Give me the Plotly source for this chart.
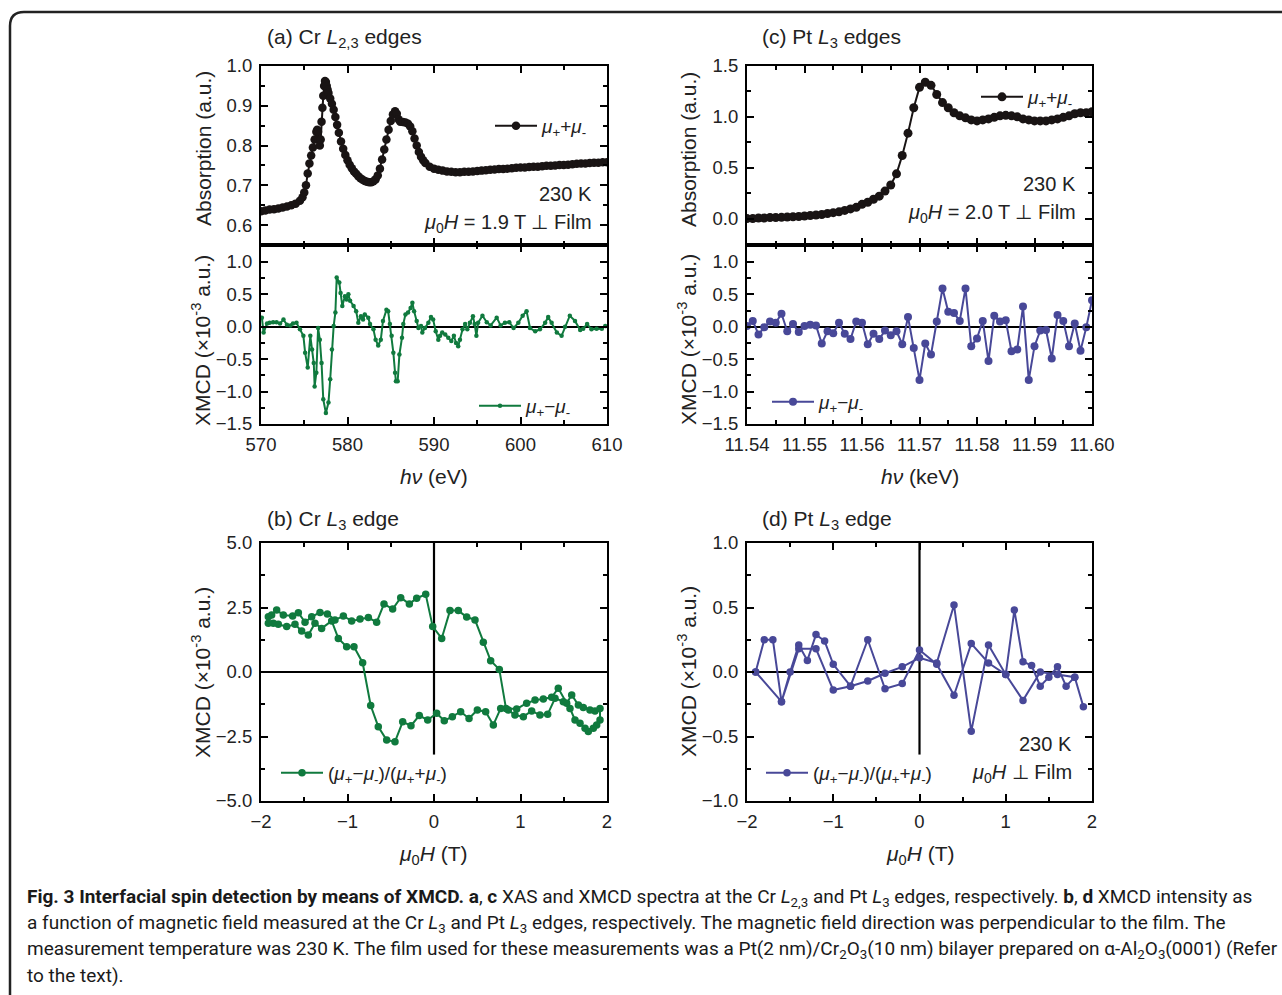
import plotly.graph_objects as go

W, H = 1282, 995
def px(x): return x / W
def py(y): return 1 - y / H

# ---------------- data ----------------
# (a) Cr L2,3 XAS  (mu+ + mu-)
cr_xas_e = [570.0, 570.5, 571.0, 571.5, 572.0, 572.5, 573.0, 573.5, 574.0, 574.5,
            574.8, 575.0, 575.2, 575.4, 575.6, 575.8, 576.0, 576.2, 576.4, 576.5,
            576.6, 576.7, 576.8, 576.9, 577.0, 577.1, 577.2, 577.3, 577.4, 577.5,
            577.6, 577.7, 577.8, 578.0, 578.2, 578.4, 578.6, 578.8, 579.0, 579.25,
            579.5, 579.75, 580.0, 580.25, 580.5, 580.75, 581.0, 581.25, 581.5, 581.75,
            582.0, 582.25, 582.5, 582.75, 583.0, 583.25, 583.5, 583.75, 584.0, 584.25,
            584.5, 584.75, 585.0, 585.25, 585.5, 585.7, 585.9, 586.1, 586.4, 586.7,
            587.0, 587.25, 587.5, 587.75, 588.0, 588.25, 588.5, 588.75, 589.0, 589.5,
            590.0, 590.5, 591.0, 591.5, 592.0, 592.5, 593.0, 593.5, 594.0, 594.5,
            595.0, 595.5, 596.0, 596.5, 597.0, 597.5, 598.0, 598.5, 599.0, 599.5,
            600.0, 600.5, 601.0, 601.5, 602.0, 602.5, 603.0, 603.5, 604.0, 604.5,
            605.0, 605.5, 606.0, 606.5, 607.0, 607.5, 608.0, 608.5, 609.0, 609.5, 610.0]
cr_xas_i = [0.635, 0.637, 0.639, 0.640, 0.642, 0.644, 0.647, 0.650, 0.654, 0.661,
            0.670, 0.682, 0.700, 0.730, 0.755, 0.775, 0.795, 0.815, 0.835, 0.840,
            0.835, 0.815, 0.800, 0.815, 0.860, 0.895, 0.925, 0.950, 0.962, 0.960,
            0.950, 0.940, 0.932, 0.918, 0.905, 0.890, 0.872, 0.852, 0.832, 0.810,
            0.792, 0.776, 0.763, 0.752, 0.743, 0.735, 0.729, 0.723, 0.718, 0.714,
            0.711, 0.709, 0.708, 0.708, 0.710, 0.715, 0.725, 0.742, 0.765, 0.790,
            0.815, 0.840, 0.862, 0.878, 0.886, 0.880, 0.866, 0.860, 0.859, 0.858,
            0.855, 0.848, 0.836, 0.818, 0.800, 0.784, 0.772, 0.763, 0.756, 0.747,
            0.742, 0.739, 0.737, 0.735, 0.734, 0.733, 0.733, 0.734, 0.734, 0.735,
            0.736, 0.737, 0.738, 0.739, 0.740, 0.741, 0.741, 0.742, 0.743, 0.744,
            0.745, 0.745, 0.746, 0.747, 0.747, 0.748, 0.749, 0.749, 0.750, 0.751,
            0.751, 0.752, 0.753, 0.754, 0.755, 0.755, 0.756, 0.757, 0.757, 0.758, 0.758]

# (a) Cr L2,3 XMCD (mu+ - mu-), x10^-3
cr_xmcd_e = [570.1, 570.3, 570.7, 571.0, 571.4, 571.8, 572.2, 572.6, 573.0, 573.4,
             573.7, 574.1, 574.5, 574.9, 575.1, 575.4, 575.7, 575.9, 576.1, 576.2,
             576.4, 576.6, 576.8, 577.0, 577.2, 577.5, 577.8, 578.0, 578.2, 578.4,
             578.6, 578.75, 579.05, 579.2, 579.4, 579.7, 579.9, 580.1, 580.3, 580.7,
             581.0, 581.25, 581.55, 581.8, 582.0, 582.4, 582.6, 583.0, 583.25, 583.55,
             583.85, 584.1, 584.5, 584.7, 584.9, 585.1, 585.3, 585.5, 585.6, 585.8,
             586.0, 586.3, 586.45, 586.7, 587.0, 587.3, 587.5, 587.7, 588.0, 588.2,
             588.5, 588.65, 588.95, 589.35, 589.65, 589.9, 590.2, 590.5, 590.7, 590.95,
             591.3, 591.65, 592.0, 592.3, 592.55, 592.8, 593.0, 593.3, 593.6, 593.85,
             594.15, 594.5, 594.7, 594.9, 595.1, 595.6, 596.1, 596.55, 597.25, 597.7,
             598.2, 598.7, 599.2, 599.75, 600.25, 600.7, 601.1, 601.7, 602.25, 602.85,
             603.2, 603.6, 604.2, 604.75, 605.15, 605.7, 606.3, 606.9, 607.25, 607.7,
             608.2, 608.8, 609.4, 609.8]
cr_xmcd_v = [0.14, -0.09, 0.05, 0.06, 0.07, 0.07, 0.05, 0.11, 0.03, 0.02,
             0.05, 0.06, -0.04, -0.14, -0.40, -0.63, -0.14, -0.35, -0.56, -0.92,
             -0.71, -0.02, -0.20, -0.56, -1.12, -1.33, -1.17, -0.81, -0.35, 0.01,
             0.22, 0.76, 0.68, 0.52, 0.32, 0.47, 0.42, 0.50, 0.40, 0.32,
             0.24, 0.06, 0.16, 0.11, 0.19, 0.14, 0.04, -0.04, -0.20, -0.29,
             -0.20, 0.09, 0.26, 0.24, 0.04, -0.14, -0.40, -0.71, -0.84, -0.84,
             -0.43, -0.17, 0.04, 0.19, 0.22, 0.29, 0.37, 0.24, 0.09, -0.02,
             0.01, -0.09, -0.02, 0.06, 0.15, 0.11, -0.07, -0.20, -0.14, -0.09,
             -0.12, -0.17, -0.22, -0.14, -0.25, -0.30, -0.20, -0.04, 0.04, -0.04,
             0.06, 0.16, 0.04, -0.14, 0.06, 0.17, 0.07, 0.02, 0.14, 0.02,
             0.06, 0.07, -0.02, 0.06, 0.17, 0.24, -0.02, -0.07, -0.04, 0.06,
             0.15, 0.06, -0.09, -0.14, 0.00, 0.17, 0.09, -0.05, -0.03, 0.04,
             -0.04, -0.03, -0.03, 0.01]

# (c) Pt L3 XAS, energies in keV (step 0.001)
pt_e = [11.540, 11.541, 11.542, 11.543, 11.544, 11.545, 11.546, 11.547, 11.548, 11.549,
        11.550, 11.551, 11.552, 11.553, 11.554, 11.555, 11.556, 11.557, 11.558, 11.559,
        11.560, 11.561, 11.562, 11.563, 11.564, 11.565, 11.566, 11.567, 11.568, 11.569,
        11.570, 11.571, 11.572, 11.573, 11.574, 11.575, 11.576, 11.577, 11.578, 11.579,
        11.580, 11.581, 11.582, 11.583, 11.584, 11.585, 11.586, 11.587, 11.588, 11.589,
        11.590, 11.591, 11.592, 11.593, 11.594, 11.595, 11.596, 11.597, 11.598, 11.599, 11.600]
pt_xas = [0.000, 0.000, 0.005, 0.005, 0.010, 0.010, 0.012, 0.015, 0.018, 0.020,
          0.025, 0.030, 0.035, 0.040, 0.050, 0.058, 0.066, 0.080, 0.095, 0.110,
          0.140, 0.160, 0.190, 0.220, 0.270, 0.330, 0.440, 0.620, 0.840, 1.090,
          1.290, 1.340, 1.310, 1.220, 1.140, 1.090, 1.040, 1.010, 0.990, 0.970,
          0.960, 0.970, 0.980, 0.995, 1.010, 1.015, 1.010, 1.000, 0.980, 0.970,
          0.960, 0.960, 0.960, 0.970, 0.980, 0.995, 1.010, 1.030, 1.040, 1.040, 1.050]
pt_xmcd = [0.01, 0.09, -0.12, -0.01, 0.08, 0.06, 0.20, -0.07, 0.04, -0.08,
           0.01, 0.03, 0.02, -0.26, -0.07, -0.10, 0.06, -0.11, -0.19, 0.08,
           0.06, -0.27, -0.11, -0.19, -0.06, -0.13, -0.07, -0.27, 0.15, -0.33,
           -0.82, -0.26, -0.43, 0.08, 0.59, 0.23, 0.21, 0.09, 0.59, -0.30,
           -0.18, 0.09, -0.53, 0.17, 0.08, 0.10, -0.38, -0.35, 0.31, -0.82,
           -0.30, -0.06, -0.05, -0.49, 0.18, 0.09, -0.30, 0.05, -0.37, -0.01, 0.41]

# (b) Cr L3 field dependence (x10^-3)
cr_h = [-1.915, -1.877, -1.819, -1.742, -1.634, -1.568, -1.491, -1.414, -1.318, -1.233,
        -1.145, -1.048, -0.952, -0.855, -0.759, -0.663, -0.578, -0.478, -0.385, -0.285,
        -0.200, -0.096, -0.015, 0.089, 0.185, 0.281, 0.378, 0.474, 0.570, 0.655,
        0.755, 0.832, 0.956, 1.071, 1.168, 1.264, 1.360, 1.437, 1.534, 1.592,
        1.669, 1.726, 1.803, 1.861, 1.919,
        1.919, 1.881, 1.842, 1.784, 1.746, 1.688, 1.630, 1.572, 1.495, 1.399,
        1.314, 1.225, 1.129, 1.033, 0.936, 0.859, 0.771, 0.686, 0.597, 0.501,
        0.405, 0.308, 0.212, 0.119, 0.031, -0.073, -0.170, -0.266, -0.362, -0.451,
        -0.547, -0.644, -0.732, -0.825, -0.925, -1.010, -1.106, -1.183, -1.299, -1.376,
        -1.453, -1.530, -1.607, -1.703, -1.800, -1.857, -1.915]
cr_m = [2.14, 2.21, 2.40, 2.21, 2.17, 2.30, 1.93, 2.14, 2.31, 2.25,
        2.02, 2.17, 1.98, 2.05, 2.11, 1.93, 2.64, 2.44, 2.88, 2.64,
        2.86, 3.01, 1.76, 1.30, 2.38, 2.38, 2.13, 2.02, 1.15, 0.44,
        0.10, -1.41, -1.43, -1.21, -1.09, -1.05, -0.98, -0.63, -1.21, -0.89,
        -1.28, -1.38, -1.47, -1.51, -1.41,
        -1.86, -2.05, -2.18, -2.31, -2.18, -1.99, -1.86, -1.41, -1.15, -1.02,
        -1.64, -1.67, -1.51, -1.73, -1.67, -1.47, -1.41, -2.05, -1.54, -1.47,
        -1.80, -1.54, -1.73, -1.89, -1.60, -1.86, -1.69, -2.08, -1.93, -2.70,
        -2.64, -2.12, -1.30, 0.36, 0.98, 0.98, 1.30, 1.98, 1.69, 1.89,
        1.43, 1.59, 1.85, 1.76, 1.85, 1.89, 1.89]

# (d) Pt L3 field dependence (x10^-3)
pt_h = [-1.9, -1.8, -1.7, -1.6, -1.5, -1.4, -1.3, -1.2, -1.1, -1.0,
        -0.8, -0.6, -0.4, -0.2, 0.0, 0.2, 0.4, 0.6, 0.8, 1.0,
        1.1, 1.2, 1.3, 1.4, 1.5, 1.6, 1.7, 1.8, 1.9,
        1.8, 1.6, 1.4, 1.2, 1.0, 0.8, 0.6, 0.4, 0.2, 0.0,
        -0.2, -0.4, -0.6, -0.8, -1.0, -1.2, -1.4, -1.6, -1.9]
pt_m = [0.00, 0.25, 0.25, -0.23, 0.00, 0.21, 0.09, 0.29, 0.24, 0.06,
        -0.11, 0.25, -0.13, -0.09, 0.17, 0.06, -0.18, 0.22, 0.07, -0.02,
        0.48, 0.08, 0.05, -0.11, -0.04, 0.04, -0.11, -0.04, -0.27,
        -0.04, -0.02, 0.00, -0.22, -0.02, 0.21, -0.46, 0.52, 0.07, 0.11,
        0.04, -0.01, -0.07, -0.11, -0.14, 0.18, 0.18, -0.23, 0.00]

# ---------------- style ----------------
GREEN = "rgb(16,122,62)"
BLUE = "rgb(72,72,152)"
BLACK = "rgb(25,20,20)"
FONT = "Liberation Sans, Arial, sans-serif"
TICKFONT = dict(family=FONT, size=18.5, color="#222")

fig = go.Figure()

fig.add_trace(go.Scatter(x=cr_xas_e, y=cr_xas_i, mode="lines+markers",
                         line=dict(color=BLACK, width=2), marker=dict(color=BLACK, size=8.5),
                         name="<i>μ</i><sub>+</sub>+<i>μ</i><sub>-</sub>",
                         xaxis="x", yaxis="y", legend="legend"))
fig.add_trace(go.Scatter(x=cr_xmcd_e, y=cr_xmcd_v, mode="lines+markers",
                         line=dict(color=GREEN, width=2), marker=dict(color=GREEN, size=4.5),
                         name="<i>μ</i><sub>+</sub>−<i>μ</i><sub>-</sub>",
                         xaxis="x2", yaxis="y2", legend="legend2"))
fig.add_trace(go.Scatter(x=pt_e, y=pt_xas, mode="lines+markers",
                         line=dict(color=BLACK, width=2), marker=dict(color=BLACK, size=9),
                         name="<i>μ</i><sub>+</sub>+<i>μ</i><sub>-</sub>",
                         xaxis="x3", yaxis="y3", legend="legend3"))
fig.add_trace(go.Scatter(x=pt_e, y=pt_xmcd, mode="lines+markers",
                         line=dict(color=BLUE, width=2), marker=dict(color=BLUE, size=8),
                         name="<i>μ</i><sub>+</sub>−<i>μ</i><sub>-</sub>",
                         xaxis="x4", yaxis="y4", legend="legend4"))
fig.add_trace(go.Scatter(x=cr_h, y=cr_m, mode="lines+markers",
                         line=dict(color=GREEN, width=2), marker=dict(color=GREEN, size=7.5),
                         name="(<i>μ</i><sub>+</sub>−<i>μ</i><sub>-</sub>)/(<i>μ</i><sub>+</sub>+<i>μ</i><sub>-</sub>)",
                         xaxis="x5", yaxis="y5", legend="legend5"))
fig.add_trace(go.Scatter(x=pt_h, y=pt_m, mode="lines+markers",
                         line=dict(color=BLUE, width=2), marker=dict(color=BLUE, size=7.5),
                         name="(<i>μ</i><sub>+</sub>−<i>μ</i><sub>-</sub>)/(<i>μ</i><sub>+</sub>+<i>μ</i><sub>-</sub>)",
                         xaxis="x6", yaxis="y6", legend="legend6"))

def ax(domain, rng, dtick, minor, fmt, labels=True, zeroline=False, anchor=None):
    d = dict(domain=domain, range=rng, dtick=dtick, tick0=0, tickformat=fmt,
             showline=True, linewidth=2, linecolor="black", mirror="allticks",
             ticks="inside", ticklen=7, tickwidth=1.5, tickcolor="black",
             minor=dict(ticks="inside", ticklen=4, tickwidth=1.5, dtick=minor, tickcolor="black"),
             showgrid=False, showticklabels=labels, tickfont=TICKFONT,
             zeroline=zeroline, zerolinecolor="black", zerolinewidth=2.2,
             anchor=anchor, ticklabelstandoff=3, automargin=False)
    return d

XL, XR = [px(261), px(607)], [px(747), px(1092)]
TOP = [py(245), py(66)]
MID = [py(424), py(245)]
BOT = [py(801), py(543)]

fig.update_layout(
    xaxis=ax(XL, [570, 610], 10, 5, "d", labels=False, anchor="y"),
    yaxis=ax(TOP, [0.55, 1.0], 0.1, 0.05, ".1f", anchor="x"),
    xaxis2=ax(XL, [570, 610], 10, 5, "d", anchor="y2"),
    yaxis2=ax(MID, [-1.5, 1.26], 0.5, 0.25, ".1f", zeroline=True, anchor="x2"),
    xaxis3=ax(XR, [11.54, 11.60], 0.01, 0.005, ".2f", labels=False, anchor="y3"),
    yaxis3=ax(TOP, [-0.26, 1.5], 0.5, 0.25, ".1f", anchor="x3"),
    xaxis4=ax(XR, [11.54, 11.60], 0.01, 0.005, ".2f", anchor="y4"),
    yaxis4=ax(MID, [-1.5, 1.26], 0.5, 0.25, ".1f", zeroline=True, anchor="x4"),
    xaxis5=ax(XL, [-2, 2], 1, 0.5, "d", anchor="y5"),
    yaxis5=ax(BOT, [-5, 5], 2.5, 1.25, ".1f", zeroline=True, anchor="x5"),
    xaxis6=ax(XR, [-2, 2], 1, 0.5, "d", anchor="y6"),
    yaxis6=ax(BOT, [-1, 1], 0.5, 0.25, ".1f", zeroline=True, anchor="x6"),
)

def leg(x, y):
    return dict(x=px(x), y=py(y), xanchor="left", yanchor="middle", xref="paper", yref="paper",
                bgcolor="rgba(0,0,0,0)", borderwidth=0, font=dict(family=FONT, size=19, color="#222"),
                itemclick=False, tracegroupgap=0, itemwidth=42)

fig.update_layout(
    legend=leg(490, 126), legend2=leg(474, 406), legend3=leg(976, 97),
    legend4=leg(767, 402), legend5=leg(276, 773), legend6=leg(761, 773),
    showlegend=True,
)

ann = []
def txt(x, y, s, size=21, xanchor="left", angle=0, color="#222"):
    ann.append(dict(x=px(x), y=py(y), xref="paper", yref="paper", text=s, showarrow=False,
                    xanchor=xanchor, yanchor="middle", textangle=angle,
                    font=dict(family=FONT, size=size, color=color)))

# panel titles
txt(265, 38, "(a) Cr <i>L</i><sub>2,3</sub> edges")
txt(760, 38, "(c) Pt <i>L</i><sub>3</sub> edges")
txt(265, 520, "(b) Cr <i>L</i><sub>3</sub> edge")
txt(760, 520, "(d) Pt <i>L</i><sub>3</sub> edge")
# y titles
txt(204, 149, "Absorption (a.u.)", xanchor="center", angle=-90)
txt(689, 149, "Absorption (a.u.)", xanchor="center", angle=-90)
txt(201, 340, "XMCD (×10<sup>-3</sup> a.u.)", xanchor="center", angle=-90)
txt(687, 340, "XMCD (×10<sup>-3</sup> a.u.)", xanchor="center", angle=-90)
txt(201, 672, "XMCD (×10<sup>-3</sup> a.u.)", xanchor="center", angle=-90)
txt(687, 672, "XMCD (×10<sup>-3</sup> a.u.)", xanchor="center", angle=-90)
# x titles
txt(434, 476, "<i>hν</i> (eV)", xanchor="center")
txt(920, 476, "<i>hν</i> (keV)", xanchor="center")
txt(434, 855, "<i>μ</i><sub>0</sub><i>H</i> (T)", xanchor="center")
txt(920, 855, "<i>μ</i><sub>0</sub><i>H</i> (T)", xanchor="center")
# in-panel notes
txt(594, 194, "230 K", size=20, xanchor="right")
txt(594, 223, "<i>μ</i><sub>0</sub><i>H</i> = 1.9 T ⊥ Film", size=20, xanchor="right")
txt(1078, 184, "230 K", size=20, xanchor="right")
txt(1078, 213, "<i>μ</i><sub>0</sub><i>H</i> = 2.0 T ⊥ Film", size=20, xanchor="right")
txt(1074, 744, "230 K", size=20, xanchor="right")
txt(1074, 773, "<i>μ</i><sub>0</sub><i>H</i> ⊥ Film", size=20, xanchor="right")

# caption
CAP = "Roboto, Open Sans, sans-serif"
cap_lines = [
    "<b>Fig. 3 Interfacial spin detection by means of XMCD. a</b>, <b>c</b> XAS and XMCD spectra at the Cr <i>L</i><sub>2,3</sub> and Pt <i>L</i><sub>3</sub> edges, respectively. <b>b</b>, <b>d</b> XMCD intensity as",
    "a function of magnetic field measured at the Cr <i>L</i><sub>3</sub> and Pt <i>L</i><sub>3</sub> edges, respectively. The magnetic field direction was perpendicular to the film. The",
    "measurement temperature was 230 K. The film used for these measurements was a Pt(2 nm)/Cr<sub>2</sub>O<sub>3</sub>(10 nm) bilayer prepared on α-Al<sub>2</sub>O<sub>3</sub>(0001) (Refer",
    "to the text).",
]
for i, s in enumerate(cap_lines):
    ann.append(dict(x=px(25), y=py(897 + 26 * i), xref="paper", yref="paper", text=s, showarrow=False,
                    xanchor="left", yanchor="middle",
                    font=dict(family=CAP, size=19, color="#1a1a1a")))

fig.update_layout(annotations=ann)

shapes = [
    dict(type="line", xref="x5", yref="y5", x0=0, x1=0, y0=5, y1=-3.2,
         line=dict(color="black", width=2.2), layer="below"),
    dict(type="line", xref="x6", yref="y6", x0=0, x1=0, y0=1, y1=-0.64,
         line=dict(color="black", width=2.2), layer="below"),
    dict(type="path", xref="paper", yref="paper",
         path=f"M {px(10)},{py(995)} L {px(10)},{py(26)} Q {px(10)},{py(12)} {px(24)},{py(12)} L {px(1282)},{py(12)}",
         line=dict(color="#222", width=2.5)),
]
fig.update_layout(shapes=shapes)

fig.update_layout(width=W, height=H, autosize=False,
                  margin=dict(l=0, r=0, t=0, b=0, pad=0),
                  paper_bgcolor="white", plot_bgcolor="rgba(0,0,0,0)")

fig.write_html("out.html")
